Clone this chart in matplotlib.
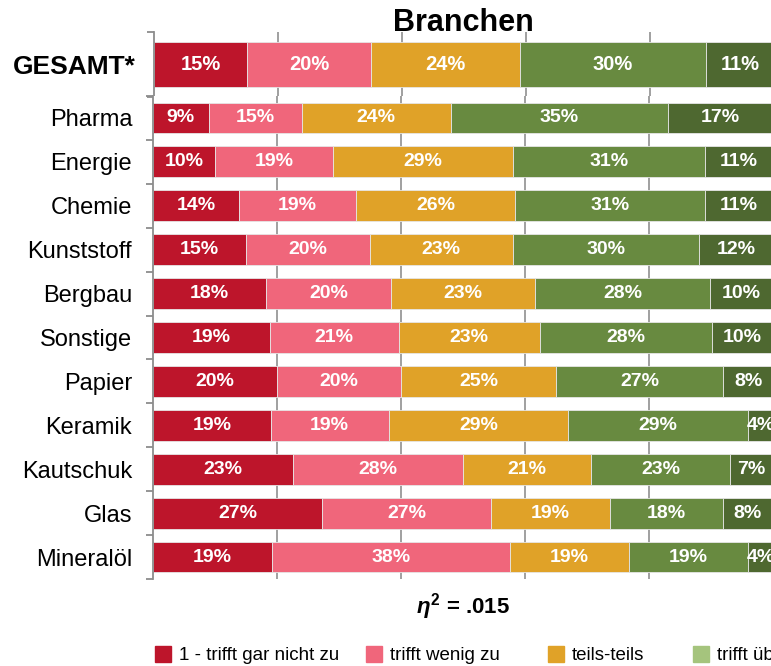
import matplotlib
matplotlib.use("Agg")
import matplotlib.pyplot as plt
from matplotlib.patches import Rectangle

plt.rcParams['font.family'] = ['Liberation Sans', 'DejaVu Sans']
plt.rcParams['mathtext.fontset'] = 'custom'
plt.rcParams['mathtext.rm'] = 'Liberation Sans:bold'
plt.rcParams['mathtext.bf'] = 'Liberation Sans:bold'
plt.rcParams['mathtext.it'] = 'Liberation Sans:italic:bold'

# data
branchen = ['Pharma', 'Energie', 'Chemie', 'Kunststoff', 'Bergbau', 'Sonstige',
            'Papier', 'Keramik', 'Kautschuk', 'Glas', 'Mineralöl']
gar_nicht = [9, 10, 14, 15, 18, 19, 20, 19, 23, 27, 19]
wenig = [15, 19, 19, 20, 20, 21, 20, 19, 28, 27, 38]
teils = [24, 29, 26, 23, 23, 23, 25, 29, 21, 19, 19]
ueberwiegend = [35, 31, 31, 30, 28, 28, 27, 29, 23, 18, 19]
voll = [17, 11, 11, 12, 10, 10, 8, 4, 7, 8, 4]

gesamt_label = 'GESAMT*'
gesamt = [15, 20, 24, 30, 11]

legend_labels = ['1 - trifft gar nicht zu', 'trifft wenig zu', 'teils-teils',
                 'trifft überwiegend zu']

bar_colors = ['#BD152B', '#F0667B', '#E0A228', '#688A40', '#4E6830']
legend_colors = ['#BD152B', '#F0667B', '#E0A228', '#A5C47D']

W, H = 771, 666
fig = plt.figure(figsize=(W / 100, H / 100), dpi=100)

grid_c = '#999999'
spine_c = '#8c8c8c'


def px(x0, y0, x1, y1):
    return [x0 / W, 1 - y1 / H, (x1 - x0) / W, (y1 - y0) / H]


def style_axis(ax, n):
    ax.set_xlim(0, 100)
    ax.set_ylim(n - 0.5, -0.5)
    for s in ['top', 'right', 'bottom']:
        ax.spines[s].set_visible(False)
    ax.spines['left'].set_color(spine_c)
    ax.spines['left'].set_linewidth(1.3)
    ax.set_xticks([])
    for gx in [20, 40, 60, 80]:
        ax.axvline(gx, color=grid_c, lw=1.3, zorder=0)
    ax.set_yticks([i - 0.5 for i in range(n + 1)], minor=True)
    ax.tick_params(axis='y', which='minor', length=5, width=1.3, color=spine_c, direction='out')
    ax.tick_params(axis='y', which='major', length=0)


def stacked(ax, rows, fontsize, height):
    # labels are rounded shares, bars are scaled to fill each row to 100 %
    totals = [sum(col) for col in zip(*rows)]
    left = [0] * len(totals)
    for k, vals in enumerate(rows):
        widths = [v / t * 100 for v, t in zip(vals, totals)]
        bars = ax.barh(range(len(vals)), widths, left=left, height=height,
                       color=bar_colors[k], edgecolor='#e6e6e6', linewidth=0.6, zorder=2)
        for b, v in zip(bars, vals):
            ax.text(b.get_x() + b.get_width() / 2, b.get_y() + b.get_height() / 2,
                    f'{v}%', ha='center', va='center', color='white',
                    fontsize=fontsize, fontweight='bold', zorder=3)
        left = [l + w for l, w in zip(left, widths)]


# top: GESAMT
ax_top = fig.add_axes(px(154, 32, 774, 97))
style_axis(ax_top, 1)
stacked(ax_top, [[v] for v in gesamt], 14.5, 0.69)
ax_top.set_yticks([0])
ax_top.set_yticklabels([gesamt_label], fontsize=19, fontweight='bold')
ax_top.tick_params(axis='y', which='major', pad=13)

fig.text(463 / W, 1 - 31 / H, 'Branchen', ha='center', va='baseline',
         fontsize=22, fontweight='bold')

# bottom: Branchen
ax = fig.add_axes(px(153, 96, 773, 579))
style_axis(ax, len(branchen))
stacked(ax, [gar_nicht, wenig, teils, ueberwiegend, voll], 14, 0.7)
ax.set_yticks(range(len(branchen)))
ax.set_yticklabels(branchen, fontsize=17)
ax.tick_params(axis='y', which='major', pad=15)

fig.text(463 / W, 1 - 607 / H, r'$\eta^{2}$ = .015', ha='center', va='center',
         fontsize=16, fontweight='bold')

# legend
leg_x = [155, 366, 548, 693]
for x, lab, c in zip(leg_x, legend_labels, legend_colors):
    fig.add_artist(Rectangle((x / W, 1 - 662 / H), 16 / W, 16 / H, color=c,
                             transform=fig.transFigure))
    fig.text((x + 24) / W, 1 - 655 / H, lab, ha='left', va='center', fontsize=13.5)

fig.savefig('out.png', dpi=100)
